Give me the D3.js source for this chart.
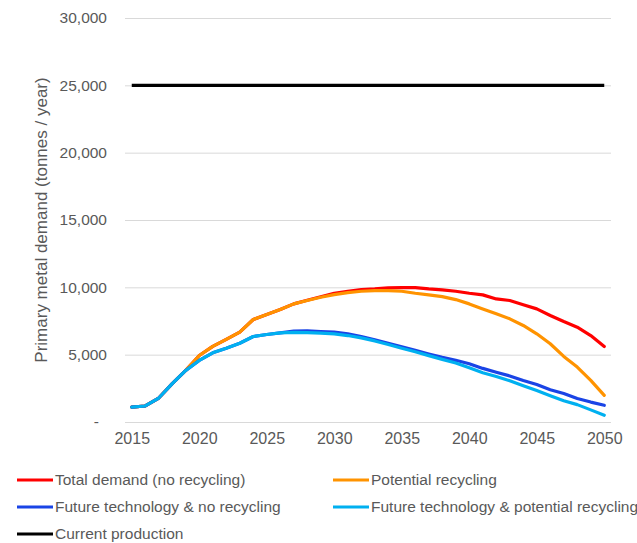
<html>
<head>
<title>Primary metal demand</title>
<style type="text/css">
* {
  margin: 0;
  padding: 0;
}
body {
  background: #fff;
  font-family: "Liberation Sans", Arial, sans-serif;
}
text {
  fill: #595959;
}
.grid line {
  stroke: #d9d9d9;
  stroke-width: 1;
}
</style>
<script type="text/javascript" src="https://cdn.jsdelivr.net/npm/d3@7"></script>
<script type="text/javascript">
// values (tonnes / year)
var years = [2015, 2016, 2017, 2018, 2019, 2020, 2021, 2022, 2023, 2024, 2025, 2026,
  2027, 2028, 2029, 2030, 2031, 2032, 2033, 2034, 2035, 2036, 2037, 2038,
  2039, 2040, 2041, 2042, 2043, 2044, 2045, 2046, 2047, 2048, 2049, 2050];

var totalDemand = [1100, 1190, 1780, 2850, 3830, 4940, 5610, 6130, 6670, 7610, 7980, 8350,
  8770, 9040, 9300, 9560, 9710, 9830, 9880, 9960, 9980, 9980, 9880, 9810,
  9710, 9560, 9440, 9140, 9020, 8700, 8400, 7910, 7460, 7040, 6420, 5610];

var potentialRecycling = [1100, 1190, 1780, 2850, 3830, 4940, 5610, 6130, 6670, 7610, 7980, 8350,
  8770, 9020, 9260, 9460, 9610, 9710, 9760, 9760, 9710, 9560, 9440, 9310,
  9090, 8770, 8400, 8030, 7660, 7170, 6550, 5810, 4870, 4080, 3090, 1980];

var futureNoRecycling = [1100, 1190, 1780, 2850, 3830, 4570, 5140, 5480, 5850, 6350, 6500, 6620,
  6750, 6760, 6720, 6670, 6550, 6350, 6100, 5850, 5580, 5320, 5050, 4800,
  4580, 4320, 3980, 3700, 3420, 3080, 2780, 2400, 2120, 1750, 1480, 1240];

var futureRecycling = [1100, 1190, 1780, 2850, 3830, 4570, 5140, 5480, 5850, 6350, 6500, 6620,
  6650, 6640, 6600, 6550, 6420, 6250, 6020, 5760, 5480, 5220, 4930, 4650,
  4380, 4020, 3660, 3380, 3060, 2700, 2330, 1950, 1580, 1290, 900, 500];

var currentProduction = 25000;

var yTicks = [0, 5000, 10000, 15000, 20000, 25000, 30000];
var xTicks = [2015, 2020, 2025, 2030, 2035, 2040, 2045, 2050];

var seriesNames = ["Total demand (no recycling)", "Potential recycling",
  "Future technology & no recycling", "Future technology & potential recycling",
  "Current production"];
var seriesColors = ["#ff0000", "#ff9300", "#1a44e6", "#00b0f0", "#000000"];

window.onload = function() {
  var width = 637, height = 543;
  var left = 125, right = 611, top = 18, bottom = 422;

  var svg = d3.select("#chart").append("svg")
    .attr("width", width)
    .attr("height", height);

  var x = d3.scalePoint().domain(years).range([left, right]).padding(0.5);
  var y = d3.scaleLinear().domain([0, 30000]).range([bottom, top]);

  //gridlines + y labels
  var yAxis = d3.axisLeft(y)
    .tickValues(yTicks)
    .tickSize(-(right - left))
    .tickPadding(18)
    .tickFormat(function(d) { return d == 0 ? "-" : d3.format(",")(d); });

  var gy = svg.append("g")
    .attr("class", "grid")
    .attr("transform", "translate(" + left + ",0)")
    .call(yAxis);
  gy.select(".domain").remove();
  gy.selectAll("text")
    .style("font-size", "15.5px")
    .style("font-family", "'Liberation Sans', Arial, sans-serif")
    .attr("fill", "#595959")
    .filter(function(d) { return d == 0; })
    .attr("dx", "-8");

  //x labels
  var xAxis = d3.axisBottom(x)
    .tickValues(xTicks)
    .tickSize(0)
    .tickPadding(11);
  var gx = svg.append("g")
    .attr("transform", "translate(0," + bottom + ")")
    .call(xAxis);
  gx.select(".domain").remove();
  gx.selectAll("text")
    .style("font-size", "16px")
    .style("font-family", "'Liberation Sans', Arial, sans-serif")
    .attr("fill", "#595959");

  //y title
  svg.append("text")
    .attr("transform", "translate(47,220) rotate(-90)")
    .attr("text-anchor", "middle")
    .style("font-size", "17px")
    .text("Primary metal demand (tonnes / year)");

  //series
  var line = d3.line()
    .x(function(d, i) { return x(years[i]); })
    .y(function(d) { return y(d); });

  [totalDemand, potentialRecycling, futureNoRecycling, futureRecycling].forEach(function(values, i) {
    svg.append("path")
      .attr("d", line(values))
      .attr("fill", "none")
      .attr("stroke", seriesColors[i])
      .attr("stroke-width", 3.2)
      .attr("stroke-linejoin", "round")
      .attr("stroke-linecap", "round");
  });

  svg.append("line")
    .attr("x1", x(years[0]))
    .attr("x2", x(years[years.length - 1]))
    .attr("y1", y(currentProduction))
    .attr("y2", y(currentProduction))
    .attr("stroke", seriesColors[4])
    .attr("stroke-width", 3.2);

  //legend
  var legendPos = [[17, 480], [333, 480], [17, 507], [333, 507], [17, 534]];
  seriesNames.forEach(function(name, i) {
    var p = legendPos[i];
    svg.append("line")
      .attr("x1", p[0]).attr("x2", p[0] + 36)
      .attr("y1", p[1]).attr("y2", p[1])
      .attr("stroke", seriesColors[i])
      .attr("stroke-width", 3.2);
    svg.append("text")
      .attr("x", p[0] + 38)
      .attr("y", p[1])
      .attr("dy", "0.35em")
      .style("font-size", "15.5px")
      .text(name);
  });
}
</script>
</head>
<body>
  <div id="chart"></div>
</body>
</html>
